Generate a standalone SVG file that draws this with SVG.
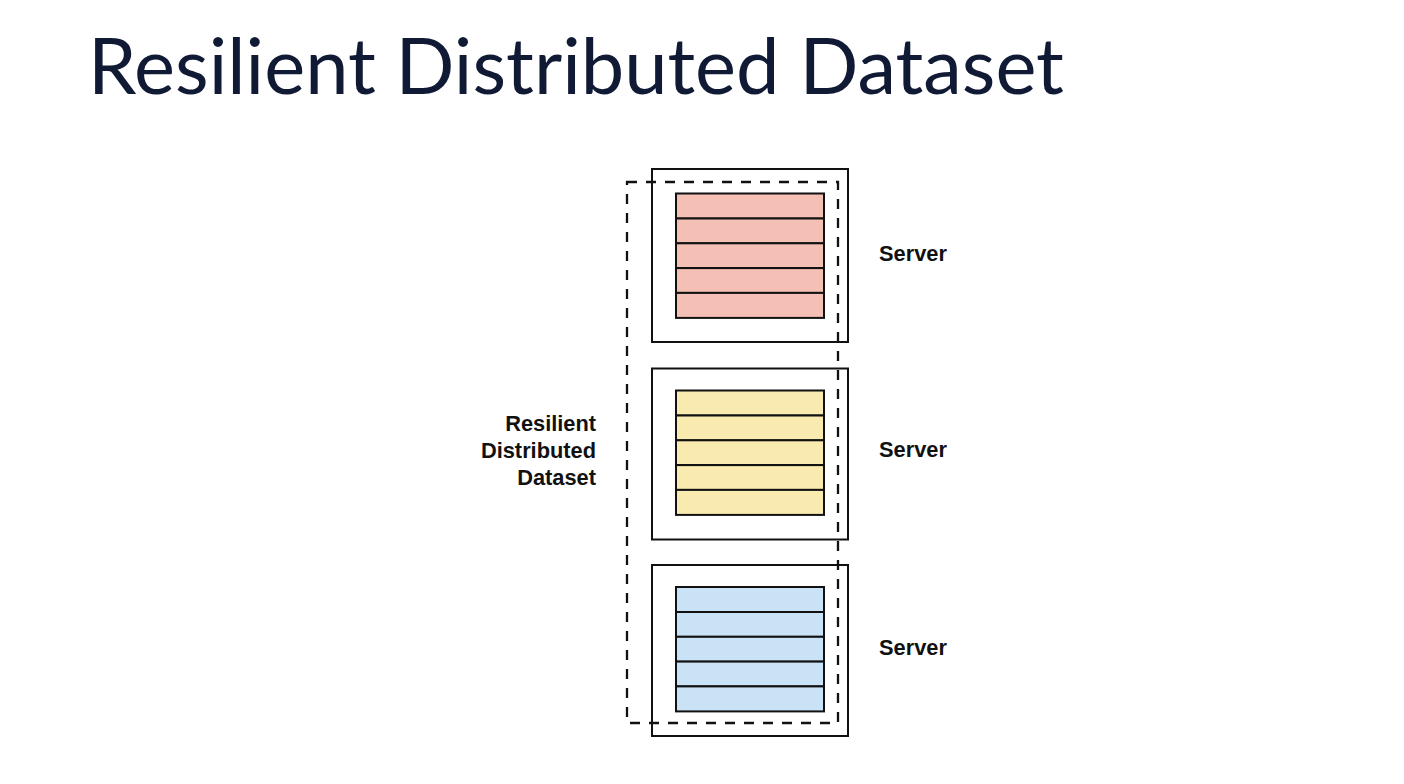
<svg xmlns="http://www.w3.org/2000/svg" width="1404" height="784" viewBox="0 0 1404 784">
<style>
.title{font-family:Lato,"Open Sans",sans-serif;font-size:77.6px;fill:#101a35}
.lbl{font-family:"Liberation Sans",Arial,sans-serif;font-weight:bold;font-size:21.8px;fill:#111}
.outer{fill:#fff;stroke:#111;stroke-width:2}
.row{stroke:#111;stroke-width:2}
.red{fill:#f4bfb4}
.yel{fill:#f9eab0}
.blu{fill:#c9e2f5}
.dash{fill:none;stroke:#111;stroke-width:2.3;stroke-dasharray:10,9}
</style>
<defs>
<g id="rows">
<rect x="0" y="0" width="148" height="25"/>
<rect x="0" y="25" width="148" height="24.8"/>
<rect x="0" y="49.8" width="148" height="24.8"/>
<rect x="0" y="74.6" width="148" height="24.8"/>
<rect x="0" y="99.4" width="148" height="25"/>
</g>
</defs>
<rect width="1404" height="784" fill="#fff"/>
<text class="title" x="88" y="94">Resilient Distributed Dataset</text>
<g id="server1">
<rect class="outer" x="652" y="169" width="196" height="173"/>
<g class="red row" transform="translate(676,193.5)"><use href="#rows"/></g>
<text class="lbl" x="879" y="261">Server</text>
</g>
<g id="server2">
<rect class="outer" x="652" y="368.5" width="196" height="171"/>
<g class="yel row" transform="translate(676,390.5)"><use href="#rows"/></g>
<text class="lbl" x="879" y="457">Server</text>
</g>
<g id="server3">
<rect class="outer" x="652" y="565" width="196" height="171"/>
<g class="blu row" transform="translate(676,587)"><use href="#rows"/></g>
<text class="lbl" x="879" y="655">Server</text>
</g>
<g id="rdd">
<rect class="dash" x="627" y="182" width="211" height="541"/>
<text class="lbl" text-anchor="end" x="596" y="431">Resilient</text>
<text class="lbl" text-anchor="end" x="596" y="458">Distributed</text>
<text class="lbl" text-anchor="end" x="596" y="485">Dataset</text>
</g>
</svg>
